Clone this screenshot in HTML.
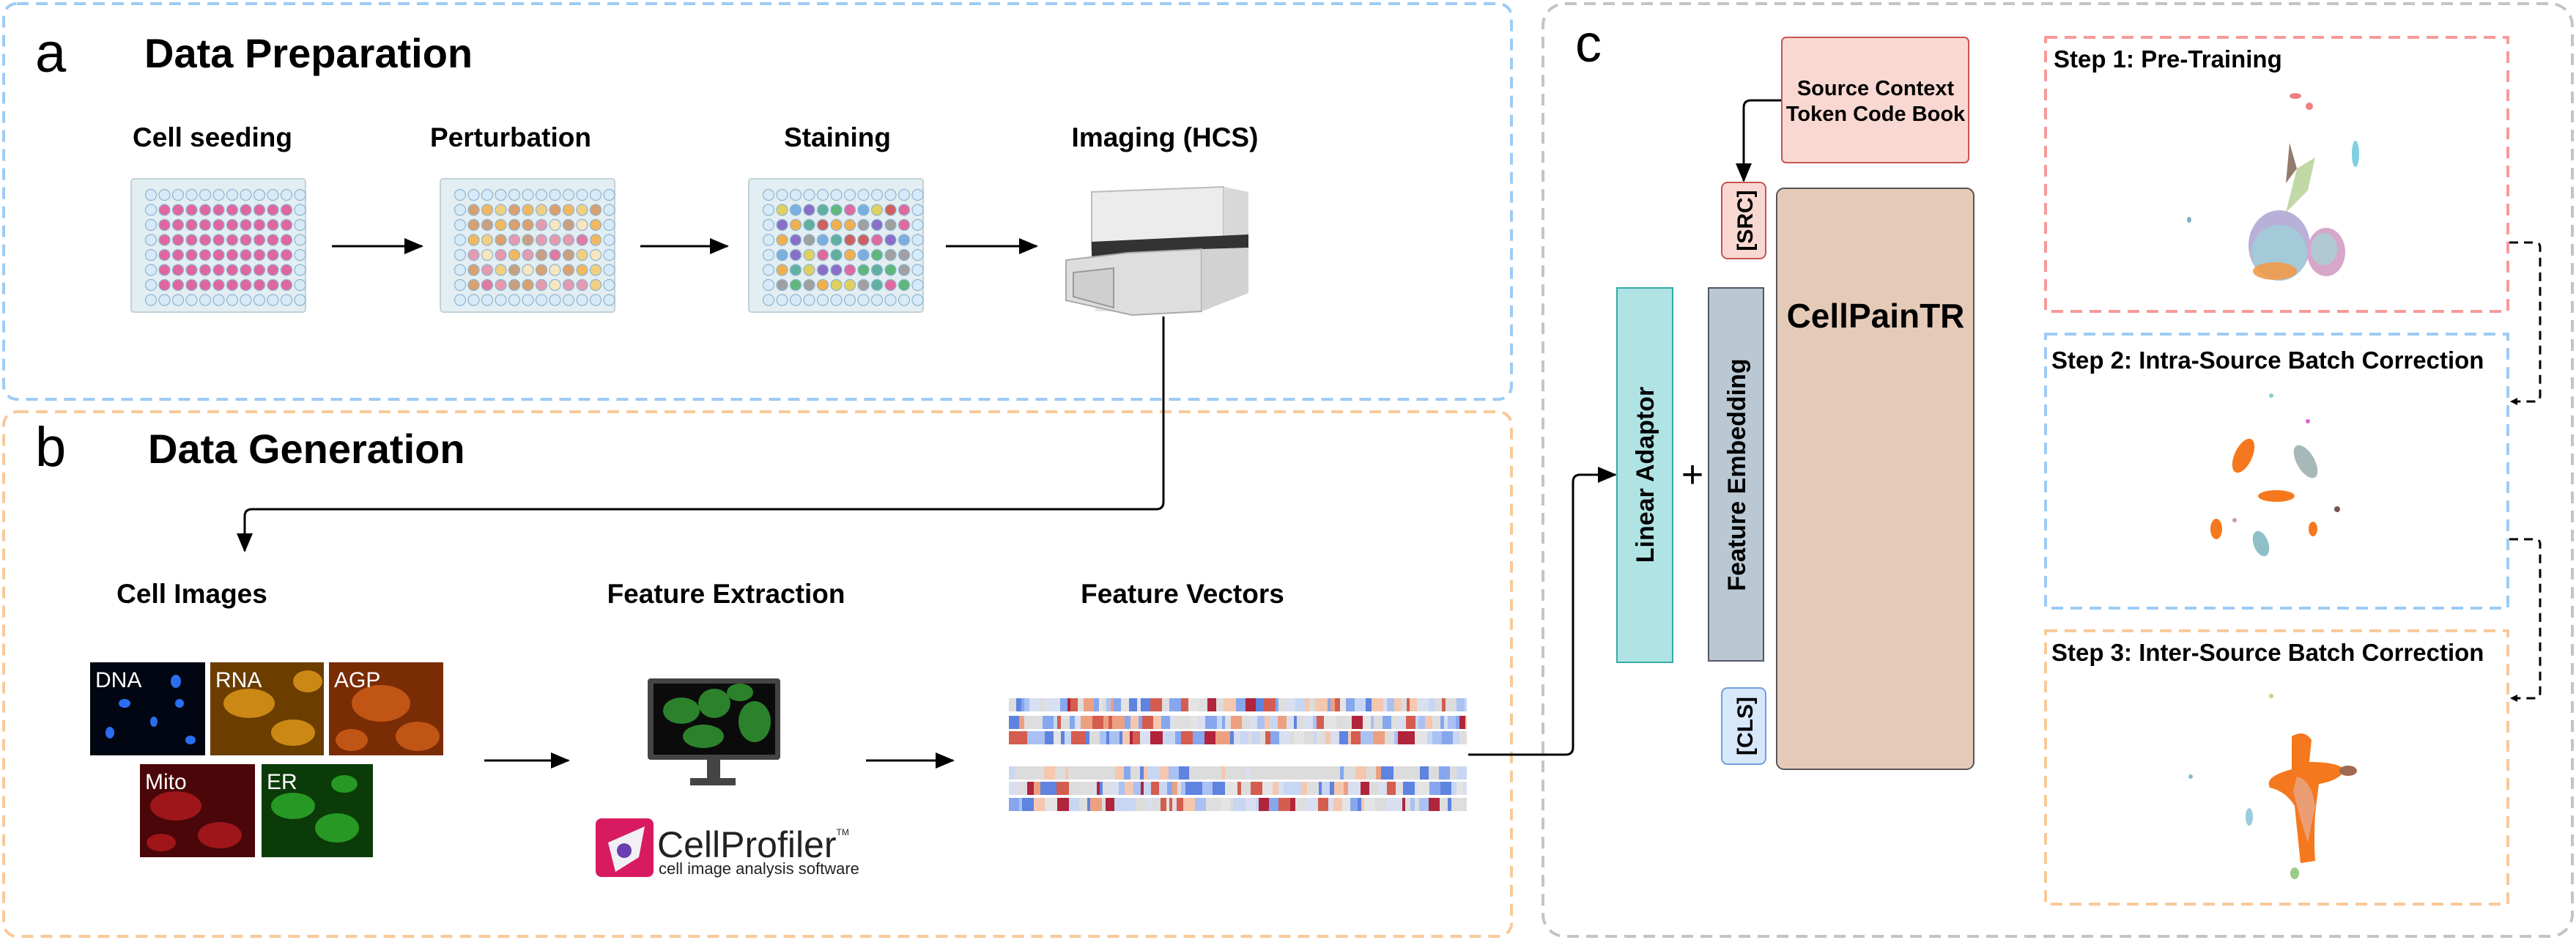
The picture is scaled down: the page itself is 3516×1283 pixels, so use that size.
<!DOCTYPE html>
<html><head><meta charset="utf-8">
<style>
html,body{margin:0;padding:0;background:#fff;}
svg{display:block;font-family:"Liberation Sans",Arial,sans-serif;}
.t{font-weight:bold;fill:#000;}
</style></head>
<body>
<svg id="s" width="3516" height="1283" viewBox="0 0 3516 1283" xmlns="http://www.w3.org/2000/svg">
<defs>
<marker id="ah" markerWidth="10" markerHeight="10" refX="9" refY="5" orient="auto" markerUnits="userSpaceOnUse" viewBox="0 0 10 10">
<path d="M0,0 L10,5 L0,10 z" fill="#000"/></marker>
<marker id="ah2" markerWidth="26" markerHeight="22" refX="24" refY="11" orient="auto" markerUnits="userSpaceOnUse">
<path d="M0,0 L26,11 L0,22 z" fill="#000"/></marker>
</defs>
<!-- panel boxes -->
<rect x="5" y="5" width="2058" height="540" rx="18" fill="none" stroke="#9ecbf5" stroke-width="4" stroke-dasharray="16,10"/>
<rect x="5" y="562" width="2058" height="716" rx="18" fill="none" stroke="#f8c99a" stroke-width="4" stroke-dasharray="16,10"/>
<rect x="2106" y="5" width="1405" height="1273" rx="30" fill="none" stroke="#c4c4c4" stroke-width="4" stroke-dasharray="16,10"/>

<text x="48" y="98" font-size="76" fill="#000">a</text>
<text x="197" y="92" font-size="56" class="t">Data Preparation</text>
<text x="48" y="636" font-size="76" fill="#000">b</text>
<text x="202" y="632" font-size="56" class="t">Data Generation</text>
<text x="2150" y="84" font-size="72" fill="#000">c</text>

<g font-size="37" class="t" text-anchor="middle">
<text x="290" y="200">Cell seeding</text>
<text x="697" y="200">Perturbation</text>
<text x="1143" y="200">Staining</text>
<text x="1590" y="200">Imaging (HCS)</text>
<text x="262" y="823">Cell Images</text>
<text x="991" y="823">Feature Extraction</text>
<text x="1614" y="823">Feature Vectors</text>
</g>

<g id="plates"></g>

<!-- imaging machine -->
<g>
<polygon points="1490,262 1670,255 1704,262 1704,400 1640,425 1495,425" fill="#e6e6e6"/>
<polygon points="1490,262 1670,255 1670,330 1490,340" fill="#ececec" stroke="#bbb" stroke-width="2"/>
<polygon points="1670,255 1704,262 1704,338 1670,330" fill="#d8d8d8"/>
<polygon points="1490,330 1704,320 1704,338 1490,350" fill="#333"/>
<polygon points="1455,355 1540,345 1640,340 1640,425 1545,430 1455,410" fill="#dedede" stroke="#aaa" stroke-width="2"/>
<polygon points="1465,372 1520,366 1520,420 1465,405" fill="#cfcfcf" stroke="#999" stroke-width="2"/>
<polygon points="1640,340 1704,338 1704,400 1640,425" fill="#d2d2d2"/>
</g>

<g stroke="#000" stroke-width="3" fill="none">
<line x1="453" y1="336" x2="576" y2="336" marker-end="url(#ah2)"/>
<line x1="874" y1="336" x2="993" y2="336" marker-end="url(#ah2)"/>
<line x1="1291" y1="336" x2="1415" y2="336" marker-end="url(#ah2)"/>
<path d="M1588,432 V685 Q1588,695 1578,695 H344 Q334,695 334,705 V752" marker-end="url(#ah2)"/>
<line x1="661" y1="1038" x2="776" y2="1038" marker-end="url(#ah2)"/>
<line x1="1182" y1="1038" x2="1301" y2="1038" marker-end="url(#ah2)"/>
<path d="M2004,1030 H2137 Q2147,1030 2147,1020 V658 Q2147,648 2157,648 H2205" marker-end="url(#ah2)"/>
<path d="M2432,137 H2390 Q2380,137 2380,147 V247" marker-end="url(#ah2)"/>
</g>

<!-- cell images -->
<g>
<rect x="123" y="904" width="157" height="127" fill="#020512"/>
<rect x="287" y="904" width="155" height="127" fill="#6b3e00"/>
<rect x="449" y="904" width="156" height="127" fill="#7a2c05"/>
<rect x="191" y="1043" width="157" height="127" fill="#4a0608"/>
<rect x="357" y="1043" width="152" height="127" fill="#0b3b08"/>
<g fill="#2a6ef0"><ellipse cx="170" cy="960" rx="8" ry="6"/><ellipse cx="240" cy="930" rx="7" ry="9"/><ellipse cx="150" cy="1000" rx="6" ry="8"/><ellipse cx="260" cy="1010" rx="7" ry="6"/><ellipse cx="210" cy="985" rx="5" ry="7"/><ellipse cx="245" cy="960" rx="6" ry="6"/></g>
<g fill="#e49b1a" opacity=".8"><ellipse cx="340" cy="960" rx="35" ry="20"/><ellipse cx="400" cy="1000" rx="30" ry="18"/><ellipse cx="420" cy="930" rx="20" ry="15"/></g>
<g fill="#d2601a" opacity=".8"><ellipse cx="520" cy="960" rx="40" ry="25"/><ellipse cx="570" cy="1005" rx="30" ry="20"/><ellipse cx="480" cy="1010" rx="22" ry="15"/></g>
<g fill="#c21d22" opacity=".7"><ellipse cx="240" cy="1100" rx="35" ry="20"/><ellipse cx="300" cy="1140" rx="30" ry="18"/><ellipse cx="220" cy="1150" rx="20" ry="12"/></g>
<g fill="#2eb02a" opacity=".8"><ellipse cx="400" cy="1100" rx="30" ry="18"/><ellipse cx="460" cy="1130" rx="30" ry="20"/><ellipse cx="470" cy="1070" rx="18" ry="12"/></g>
<g fill="#fff" font-size="30"><text x="130" y="938">DNA</text><text x="294" y="938">RNA</text><text x="456" y="938">AGP</text><text x="198" y="1077">Mito</text><text x="364" y="1077">ER</text></g>
</g>

<!-- monitor -->
<g>
<rect x="884" y="926" width="181" height="111" rx="4" fill="#444"/>
<rect x="892" y="933" width="166" height="97" fill="#0b0b0b"/>
<g fill="#2f8f2f" opacity=".9"><ellipse cx="930" cy="970" rx="25" ry="18"/><ellipse cx="975" cy="960" rx="22" ry="20"/><ellipse cx="1030" cy="985" rx="22" ry="28"/><ellipse cx="960" cy="1005" rx="28" ry="16"/><ellipse cx="1010" cy="945" rx="18" ry="12"/></g>
<rect x="965" y="1037" width="18" height="26" fill="#444"/>
<rect x="942" y="1062" width="62" height="10" fill="#444"/>
</g>
<!-- cellprofiler logo -->
<rect x="813" y="1117" width="79" height="80" rx="8" fill="#d81b60"/>
<polygon points="830,1150 880,1128 872,1170 840,1190" fill="#f2f0f4"/>
<circle cx="852" cy="1161" r="10" fill="#6a3db0"/>
<text x="897" y="1170" font-size="50" fill="#222">CellProfiler<tspan font-size="12" dy="-30">TM</tspan></text>
<text x="899" y="1193" font-size="22" fill="#222">cell image analysis software</text>

<g id="fv"></g>

<!-- panel c -->
<rect x="2432" y="51" width="255" height="171" rx="6" fill="#f9d8d2" stroke="#c9534f" stroke-width="2"/>
<text x="2560" y="130" font-size="29" class="t" text-anchor="middle">Source Context</text>
<text x="2560" y="165" font-size="29" class="t" text-anchor="middle">Token Code Book</text>
<rect x="2350" y="249" width="60" height="104" rx="8" fill="#f9d8d2" stroke="#c9534f" stroke-width="2"/>
<text transform="translate(2392,301) rotate(-90)" font-size="30" class="t" text-anchor="middle">[SRC]</text>
<rect x="2350" y="939" width="60" height="104" rx="8" fill="#d8e8fb" stroke="#6f9fd8" stroke-width="2"/>
<text transform="translate(2392,991) rotate(-90)" font-size="30" class="t" text-anchor="middle">[CLS]</text>
<rect x="2425" y="257" width="269" height="793" rx="10" fill="#e6cab8" stroke="#555" stroke-width="2"/>
<text x="2560" y="447" font-size="46" class="t" text-anchor="middle">CellPainTR</text>
<rect x="2207" y="393" width="76" height="511" fill="#b0e3e3" stroke="#3aa" stroke-width="2"/>
<text transform="translate(2257,648) rotate(-90)" font-size="34" class="t" text-anchor="middle">Linear Adaptor</text>
<rect x="2332" y="393" width="75" height="509" fill="#bac8d3" stroke="#556" stroke-width="2"/>
<text transform="translate(2382,648) rotate(-90)" font-size="34" class="t" text-anchor="middle">Feature Embedding</text>
<text x="2310" y="665" font-size="52" text-anchor="middle" fill="#000">+</text>

<rect x="2792" y="51" width="631" height="374" fill="none" stroke="#f79a9a" stroke-width="4" stroke-dasharray="16,10"/>
<rect x="2792" y="456" width="631" height="374" fill="none" stroke="#9ecbf5" stroke-width="4" stroke-dasharray="16,10"/>
<rect x="2792" y="861" width="631" height="373" fill="none" stroke="#f8c99a" stroke-width="4" stroke-dasharray="16,10"/>
<g font-size="33" class="t">
<text x="2803" y="92">Step 1: Pre-Training</text>
<text x="2800" y="503">Step 2: Intra-Source Batch Correction</text>
<text x="2800" y="902">Step 3: Inter-Source Batch Correction</text>
</g>
<g stroke="#000" stroke-width="3" fill="none" stroke-dasharray="12,8">
<path d="M3425,331 H3460 Q3467,331 3467,338 V540 Q3467,548 3460,548 H3427" marker-end="url(#ah)"/>
<path d="M3425,736 H3460 Q3467,736 3467,743 V945 Q3467,953 3460,953 H3427" marker-end="url(#ah)"/>
</g>
<!-- umaps -->
<g>
<ellipse cx="3111" cy="335" rx="42" ry="48" fill="#b9b0d9"/>
<ellipse cx="3111" cy="345" rx="38" ry="38" fill="#9fd0d8" opacity=".8"/>
<ellipse cx="3105" cy="370" rx="30" ry="12" fill="#f29a4a" opacity=".9"/>
<ellipse cx="3175" cy="344" rx="26" ry="33" fill="#d6a7c9"/>
<ellipse cx="3172" cy="340" rx="18" ry="22" fill="#a8d2d6" opacity=".8"/>
<path d="M3120,290 L3135,230 L3160,215 L3150,260 Z" fill="#a8c880" opacity=".7"/>
<path d="M3125,195 L3135,230 L3120,250 Z" fill="#7a5a4a" opacity=".8"/>
<ellipse cx="3215" cy="210" rx="5" ry="18" fill="#7fd0e0"/>
<ellipse cx="3133" cy="131" rx="8" ry="4" fill="#f08080"/>
<ellipse cx="3152" cy="145" rx="5" ry="5" fill="#f08080"/>
<ellipse cx="2988" cy="300" rx="3" ry="4" fill="#7fb0c0"/>
</g>
<g fill="#f5781e">
<ellipse cx="3062" cy="622" rx="12" ry="25" transform="rotate(25 3062 622)"/>
<ellipse cx="3147" cy="630" rx="12" ry="25" transform="rotate(-30 3147 630)" fill="#a7b8b8"/>
<ellipse cx="3107" cy="677" rx="25" ry="8"/>
<ellipse cx="3025" cy="722" rx="8" ry="14"/>
<ellipse cx="3086" cy="742" rx="10" ry="18" transform="rotate(-20 3086 742)" fill="#8fc0c8"/>
<ellipse cx="3157" cy="722" rx="6" ry="10"/>
<circle cx="3100" cy="540" r="3" fill="#8cc"/><circle cx="3150" cy="575" r="3" fill="#d6c"/><circle cx="3190" cy="695" r="4" fill="#755"/><circle cx="3050" cy="710" r="3" fill="#c9a"/>
</g>
<g>
<path d="M3128,1005 Q3145,995 3155,1010 L3152,1040 Q3190,1040 3200,1050 Q3195,1065 3165,1070 L3160,1110 Q3158,1150 3160,1175 L3140,1178 Q3136,1140 3132,1100 Q3120,1080 3098,1075 Q3090,1060 3128,1050 Z" fill="#f5781e"/>
<path d="M3135,1060 Q3155,1065 3160,1100 L3150,1150 Q3140,1120 3130,1080 Z" fill="#e8a68a" opacity=".8"/>
<ellipse cx="3205" cy="1052" rx="12" ry="7" fill="#a06a50"/>
<ellipse cx="3070" cy="1115" rx="5" ry="12" fill="#9cd" />
<ellipse cx="3132" cy="1192" rx="6" ry="8" fill="#9c8"/>
<circle cx="3100" cy="950" r="3" fill="#cc8"/><circle cx="2990" cy="1060" r="3" fill="#8bc"/>
</g>
</svg>
<script>
(function(){
var ns="http://www.w3.org/2000/svg";
function el(p,t,a){var e=document.createElementNS(ns,t);for(var k in a)e.setAttribute(k,a[k]);p.appendChild(e);return e;}
var seed=7;function r(){seed=(seed*9301+49297)%233280;return seed/233280;}
var pl=document.getElementById('plates');
var xs=[179,601,1022];
var pal2=['#f0b860','#e39bb0','#f7e6c0','#d9a070','#f0d080','#e07aa0','#c8a080'];
var pal3=['#e06aa0','#5fb87a','#8a6fc8','#f0b050','#7ab0e0','#d06060','#60b0a0','#a0a0a0','#e0d060'];
xs.forEach(function(x0,pi){
 el(pl,'rect',{x:x0,y:244,width:238,height:182,rx:4,fill:'#e3eef2',stroke:'#c0d2d8','stroke-width':2});
 for(var i=0;i<12;i++)for(var j=0;j<8;j++){
  var cx=x0+27+i*18.5,cy=266+j*20.5;var f='#d6eaf8';
  var inner=(i>0&&i<11&&j>0&&j<7);
  if(inner){ if(pi==0)f='#e066a0'; else if(pi==1)f=pal2[Math.floor(r()*pal2.length)]; else f=pal3[Math.floor(r()*pal3.length)];}
  el(pl,'circle',{cx:cx,cy:cy,r:7.5,fill:f,stroke:'#8fb4cf','stroke-width':1.2});
 }
});
var fv=document.getElementById('fv');
var rows=[953,977,998,1046,1067,1089];
var cols=['#dcdcdc','#d8dff0','#c7d6f2','#a9c1f3','#86a7ee','#5e83e0','#f4c7ae','#eda080','#d45d4f','#b0243c','#e4e4e4','#dedede'];
rows.forEach(function(y,ri){
 var x=1377;
 while(x<2002){var w=4+Math.floor(r()*14);if(x+w>2002)w=2002-x;
  var c=cols[Math.floor(r()*(ri==3?8:cols.length))];if(ri==3&&r()<0.6)c='#dcdcdc';
  el(fv,'rect',{x:x,y:y,width:w,height:18,fill:c});x+=w;}
});
})();
</script>
</body></html>
